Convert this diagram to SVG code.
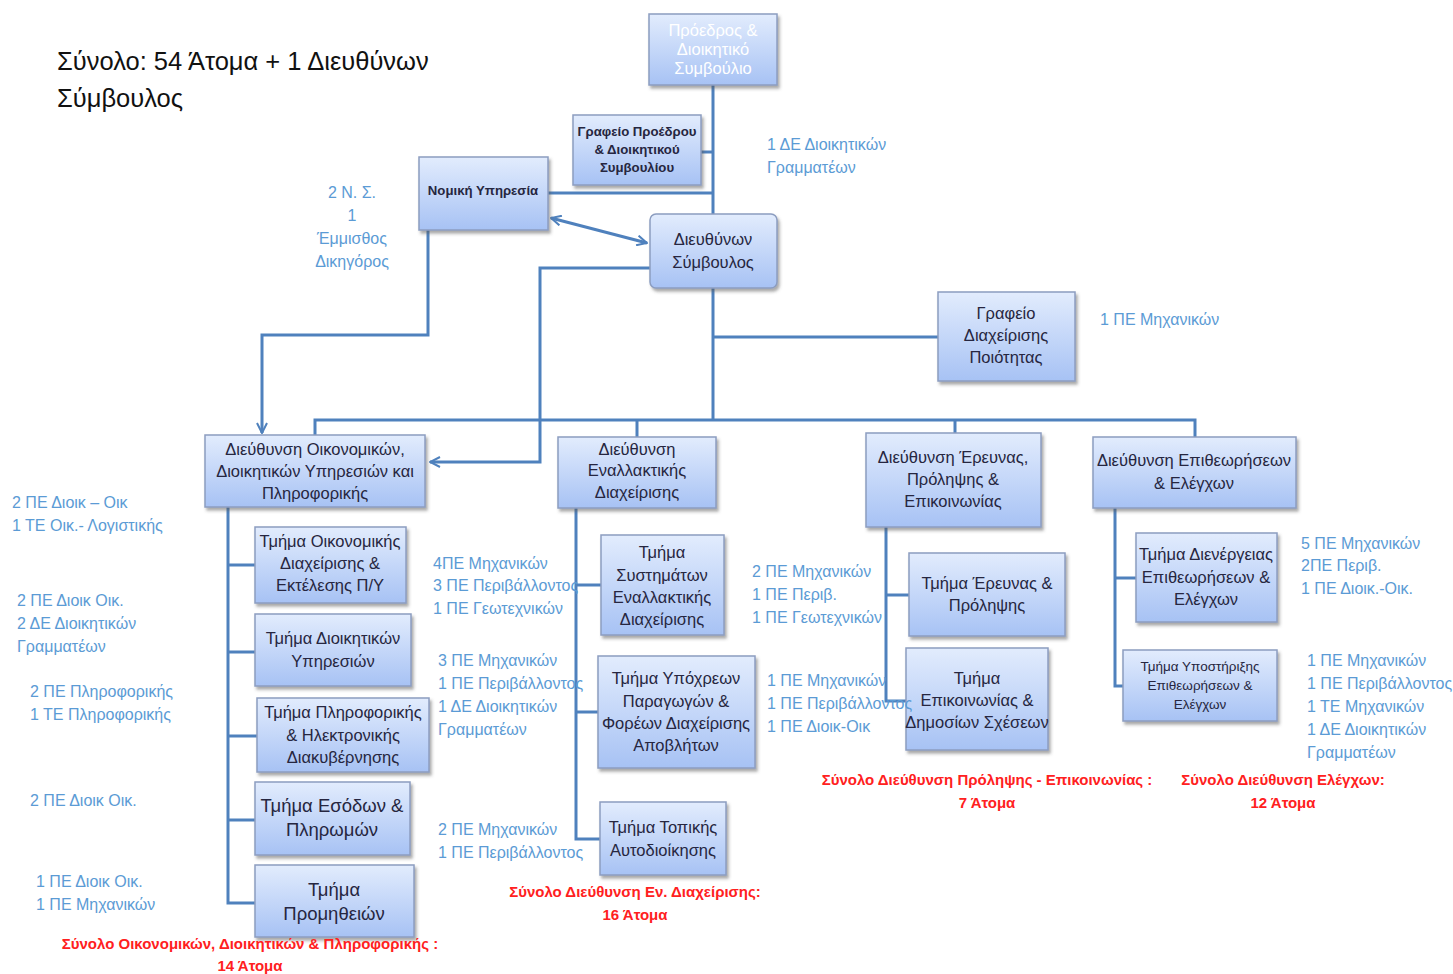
<svg xmlns="http://www.w3.org/2000/svg" width="1453" height="974" viewBox="0 0 1453 974">
<style>
.box{fill:url(#g);stroke:#8c9dc0;stroke-width:1.5;filter:url(#sh)}
.nt{font-family:"Liberation Sans",Arial,sans-serif;font-size:16.5px;fill:#262640;text-anchor:middle}
.big{font-size:18.5px}
.sm{font-size:13.2px;font-weight:bold}
.wt{fill:#ffffff}
.lbl{font-family:"Liberation Sans",Arial,sans-serif;font-size:16px;fill:#5b9bd5}
.red{font-family:"Liberation Sans",Arial,sans-serif;font-size:15px;font-weight:bold;fill:#ff2020;text-anchor:middle}
.title{font-family:"Liberation Sans",Arial,sans-serif;font-size:25.5px;fill:#111}
.conn{stroke:#4f81bd;stroke-width:3;fill:none}
</style>
<defs>
<linearGradient id="g" x1="0" y1="0" x2="0" y2="1">
<stop offset="0" stop-color="#e2ecfd"/>
<stop offset="1" stop-color="#a7c2f4"/>
</linearGradient>
<filter id="sh" x="-10%" y="-10%" width="125%" height="130%">
<feDropShadow dx="2" dy="3" stdDeviation="1.5" flood-color="#555" flood-opacity="0.5"/>
</filter>
<marker id="ah" viewBox="0 0 12 12" refX="11" refY="6" markerWidth="12" markerHeight="12" markerUnits="userSpaceOnUse" orient="auto-start-reverse">
<path d="M1,1 L11,6 L1,11" fill="none" stroke="#4f81bd" stroke-width="2"/>
</marker>
</defs>
<rect width="1453" height="974" fill="#fff"/>

<g id="connectors">
<path class="conn" d="M713,85 V420"/>
<path class="conn" d="M701,152 H713"/>
<path class="conn" d="M548,193 H713"/>
<path class="conn" d="M713,337 H938"/>
<path class="conn" d="M315,435 V420 H1195 V437"/>
<path class="conn" d="M637,420 V437"/>
<path class="conn" d="M955,420 V433"/>
<path class="conn" d="M428,230 V335 H262 V433" marker-end="url(#ah)"/>
<path class="conn" d="M650,268 H540 V462 H430" marker-end="url(#ah)"/>
<path class="conn" d="M551,218 L647,243" marker-start="url(#ah)" marker-end="url(#ah)"/>
<path class="conn" d="M228,507 V903 H255"/>
<path class="conn" d="M228,565 H255 M228,652 H255 M228,736 H257 M228,820 H255"/>
<path class="conn" d="M576,508 V839 H600"/>
<path class="conn" d="M576,585 H601 M576,712 H598"/>
<path class="conn" d="M886,527 V701 H906"/>
<path class="conn" d="M886,595 H909"/>
<path class="conn" d="M1115,508 V686 H1123"/>
<path class="conn" d="M1115,578 H1136"/>
</g>

<g id="n-president"><rect class="box" x="649" y="14" width="128" height="71"/>
<text class="nt wt" x="713" y="36">Πρόεδρος &amp;</text><text class="nt wt" x="713" y="55">Διοικητικό</text><text class="nt wt" x="713" y="74">Συμβούλιο</text></g>

<g id="n-office"><rect class="box" x="573" y="115" width="128" height="70"/>
<text class="nt sm" x="637" y="136">Γραφείο Προέδρου</text><text class="nt sm" x="637" y="154">&amp; Διοικητικού</text><text class="nt sm" x="637" y="172">Συμβουλίου</text></g>

<g id="n-legal"><rect class="box" x="419" y="157" width="129" height="73"/>
<text class="nt sm" x="483" y="195">Νομική Υπηρεσία</text></g>

<g id="n-ceo"><rect class="box" x="650" y="214" width="127" height="74" rx="6"/>
<text class="nt" x="713" y="245">Διευθύνων</text><text class="nt" x="713" y="268">Σύμβουλος</text></g>

<g id="n-quality"><rect class="box" x="938" y="292" width="137" height="89"/>
<text class="nt" x="1006" y="319">Γραφείο</text><text class="nt" x="1006" y="341">Διαχείρισης</text><text class="nt" x="1006" y="363">Ποιότητας</text></g>

<g id="d-econ"><rect class="box" x="205" y="435" width="220" height="72"/>
<text class="nt" x="315" y="455">Διεύθυνση Οικονομικών,</text><text class="nt" x="315" y="477">Διοικητικών Υπηρεσιών και</text><text class="nt" x="315" y="499">Πληροφορικής</text></g>

<g id="d-alt"><rect class="box" x="558" y="437" width="158" height="71"/>
<text class="nt" x="637" y="455">Διεύθυνση</text><text class="nt" x="637" y="476">Εναλλακτικής</text><text class="nt" x="637" y="498">Διαχείρισης</text></g>

<g id="d-research"><rect class="box" x="866" y="433" width="175" height="94"/>
<text class="nt" x="953" y="463">Διεύθυνση Έρευνας,</text><text class="nt" x="953" y="485">Πρόληψης &amp;</text><text class="nt" x="953" y="507">Επικοινωνίας</text></g>

<g id="d-insp"><rect class="box" x="1093" y="437" width="203" height="71"/>
<text class="nt" x="1194" y="466">Διεύθυνση Επιθεωρήσεων</text><text class="nt" x="1194" y="489">&amp;  Ελέγχων</text></g>

<g id="t-fin"><rect class="box" x="255" y="527" width="151" height="76"/>
<text class="nt" x="330" y="547">Τμήμα Οικονομικής</text><text class="nt" x="330" y="569">Διαχείρισης &amp;</text><text class="nt" x="330" y="591">Εκτέλεσης Π/Υ</text></g>

<g id="t-admin"><rect class="box" x="255" y="614" width="156" height="72"/>
<text class="nt" x="333" y="644">Τμήμα Διοικητικών</text><text class="nt" x="333" y="667">Υπηρεσιών</text></g>

<g id="t-it"><rect class="box" x="257" y="698" width="172" height="74"/>
<text class="nt" x="343" y="718">Τμήμα Πληροφορικής</text><text class="nt" x="343" y="741">&amp; Ηλεκτρονικής</text><text class="nt" x="343" y="763">Διακυβέρνησης</text></g>

<g id="t-rev"><rect class="box" x="255" y="782" width="155" height="73"/>
<text class="nt big" x="332" y="812">Τμήμα Εσόδων &amp;</text><text class="nt big" x="332" y="836">Πληρωμών</text></g>

<g id="t-proc"><rect class="box" x="255" y="865" width="159" height="72"/>
<text class="nt big" x="334" y="896">Τμήμα</text><text class="nt big" x="334" y="920">Προμηθειών</text></g>

<g id="t-sys"><rect class="box" x="601" y="535" width="123" height="100"/>
<text class="nt" x="662" y="558">Τμήμα</text><text class="nt" x="662" y="581">Συστημάτων</text><text class="nt" x="662" y="603">Εναλλακτικής</text><text class="nt" x="662" y="625">Διαχείρισης</text></g>

<g id="t-prod"><rect class="box" x="598" y="656" width="157" height="112"/>
<text class="nt" x="676" y="684">Τμήμα Υπόχρεων</text><text class="nt" x="676" y="707">Παραγωγών &amp;</text><text class="nt" x="676" y="729">Φορέων Διαχείρισης</text><text class="nt" x="676" y="751">Αποβλήτων</text></g>

<g id="t-local"><rect class="box" x="600" y="802" width="126" height="73"/>
<text class="nt" x="663" y="833">Τμήμα Τοπικής</text><text class="nt" x="663" y="856">Αυτοδιοίκησης</text></g>

<g id="t-research"><rect class="box" x="909" y="553" width="156" height="83"/>
<text class="nt" x="987" y="589">Τμήμα Έρευνας &amp;</text><text class="nt" x="987" y="611">Πρόληψης</text></g>

<g id="t-comm"><rect class="box" x="906" y="648" width="142" height="102"/>
<text class="nt" x="977" y="684">Τμήμα</text><text class="nt" x="977" y="706">Επικοινωνίας &amp;</text><text class="nt" x="977" y="728">Δημοσίων Σχέσεων</text></g>

<g id="t-conduct"><rect class="box" x="1136" y="533" width="141" height="89"/>
<text class="nt" x="1206" y="560">Τμήμα Διενέργειας</text><text class="nt" x="1206" y="583">Επιθεωρήσεων &amp;</text><text class="nt" x="1206" y="605">Ελέγχων</text></g>

<g id="t-support"><rect class="box" x="1123" y="650" width="154" height="71"/>
<text class="nt" x="1200" y="671" style="font-size:13.5px">Τμήμα Υποστήριξης</text><text class="nt" x="1200" y="690" style="font-size:13.5px">Επιθεωρήσεων &amp;</text><text class="nt" x="1200" y="709" style="font-size:13.5px">Ελέγχων</text></g>

<g id="labels">
<text class="title" x="57" y="70">Σύνολο: 54 Άτομα + 1 Διευθύνων</text>
<text class="title" x="57" y="107">Σύμβουλος</text>

<text class="lbl" x="767" y="150">1 ΔΕ Διοικητικών</text><text class="lbl" x="767" y="173">Γραμματέων</text>
<text class="lbl" x="352" y="198" text-anchor="middle">2 Ν. Σ.</text><text class="lbl" x="352" y="221" text-anchor="middle">1</text><text class="lbl" x="352" y="244" text-anchor="middle">Έμμισθος</text><text class="lbl" x="352" y="267" text-anchor="middle">Δικηγόρος</text>
<text class="lbl" x="1100" y="325">1 ΠΕ Μηχανικών</text>

<text class="lbl" x="12" y="508">2 ΠΕ Διοικ – Οικ</text><text class="lbl" x="12" y="531">1 ΤΕ Οικ.- Λογιστικής</text>
<text class="lbl" x="17" y="606">2 ΠΕ Διοικ Οικ.</text><text class="lbl" x="17" y="629">2 ΔΕ Διοικητικών</text><text class="lbl" x="17" y="652">Γραμματέων</text>
<text class="lbl" x="30" y="697">2 ΠΕ Πληροφορικής</text><text class="lbl" x="30" y="720">1 ΤΕ Πληροφορικής</text>
<text class="lbl" x="30" y="806">2 ΠΕ Διοικ Οικ.</text>
<text class="lbl" x="36" y="887">1 ΠΕ Διοικ Οικ.</text><text class="lbl" x="36" y="910">1 ΠΕ Μηχανικών</text>
<text class="red" x="250" y="949">Σύνολο Οικονομικών, Διοικητικών &amp; Πληροφορικής :</text><text class="red" x="250" y="971">14 Άτομα</text>

<text class="lbl" x="433" y="569">4ΠΕ Μηχανικών</text><text class="lbl" x="433" y="591">3 ΠΕ Περιβάλλοντος</text><text class="lbl" x="433" y="614">1 ΠΕ Γεωτεχνικών</text>
<text class="lbl" x="438" y="666">3 ΠΕ Μηχανικών</text><text class="lbl" x="438" y="689">1 ΠΕ Περιβάλλοντος</text><text class="lbl" x="438" y="712">1 ΔΕ Διοικητικών</text><text class="lbl" x="438" y="735">Γραμματέων</text>
<text class="lbl" x="438" y="835">2 ΠΕ Μηχανικών</text><text class="lbl" x="438" y="858">1 ΠΕ Περιβάλλοντος</text>
<text class="red" x="635" y="897">Σύνολο Διεύθυνση Εν. Διαχείρισης:</text><text class="red" x="635" y="920">16 Άτομα</text>

<text class="lbl" x="752" y="577">2 ΠΕ Μηχανικών</text><text class="lbl" x="752" y="600">1 ΠΕ Περιβ.</text><text class="lbl" x="752" y="623">1 ΠΕ Γεωτεχνικών</text>
<text class="lbl" x="767" y="686">1 ΠΕ Μηχανικών</text><text class="lbl" x="767" y="709">1 ΠΕ Περιβάλλοντος</text><text class="lbl" x="767" y="732">1 ΠΕ Διοικ-Οικ</text>
<text class="red" x="987" y="785">Σύνολο Διεύθυνση Πρόληψης - Επικοινωνίας :</text><text class="red" x="987" y="808">7  Άτομα</text>

<text class="lbl" x="1301" y="549">5 ΠΕ Μηχανικών</text><text class="lbl" x="1301" y="571">2ΠΕ Περιβ.</text><text class="lbl" x="1301" y="594">1 ΠΕ Διοικ.-Οικ.</text>
<text class="lbl" x="1307" y="666">1 ΠΕ Μηχανικών</text><text class="lbl" x="1307" y="689">1 ΠΕ Περιβάλλοντος</text><text class="lbl" x="1307" y="712">1 ΤΕ Μηχανικών</text><text class="lbl" x="1307" y="735">1 ΔΕ Διοικητικών</text><text class="lbl" x="1307" y="758">Γραμματέων</text>
<text class="red" x="1283" y="785">Σύνολο Διεύθυνση Ελέγχων:</text><text class="red" x="1283" y="808">12 Άτομα</text>
</g>
</svg>
